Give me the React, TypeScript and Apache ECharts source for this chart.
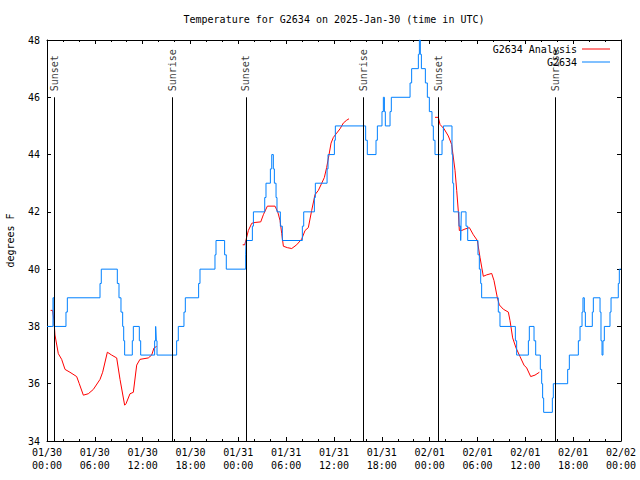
import React, { useEffect, useRef } from "react";
import * as echarts from "echarts";

const TITLE = "Temperature for G2634 on 2025-Jan-30 (time in UTC)";
const Y_NAME = "degrees F";
const OBS_NAME = "G2634";
const ANALYSIS_NAME = "G2634 Analysis";

// x is hours since 2025-01-30 00:00 UTC
const xTickLabels = [
  "01/30\n00:00", "01/30\n06:00", "01/30\n12:00", "01/30\n18:00",
  "01/31\n00:00", "01/31\n06:00", "01/31\n12:00", "01/31\n18:00",
  "02/01\n00:00", "02/01\n06:00", "02/01\n12:00", "02/01\n18:00",
  "02/02\n00:00",
];

// observed temperature: [hour, value] at each change
const observed: [number, number][] = [
  [0, 38], [0.75, 39], [0.88, 38], [2.38, 38.5], [2.55, 39], [6.65, 39.5], [6.81, 40],
  [8.82, 39.5], [9.03, 39], [9.28, 38.5], [9.49, 38], [9.62, 37.5], [9.74, 37],
  [10.7, 37.5], [10.83, 38], [11.58, 37.5], [11.75, 37], [13.5, 37.5], [13.63, 38],
  [13.71, 37.5], [13.8, 37], [16.26, 37.5], [16.47, 38], [17.18, 38.5], [17.35, 39],
  [19.02, 39.5], [19.19, 40], [21.07, 40.5], [21.2, 41], [22.28, 40.5], [22.49, 40],
  [24.92, 40.5], [24.97, 41], [25.76, 41.5], [25.89, 42], [27.31, 42.5], [27.47, 43],
  [28.02, 43.5], [28.19, 44], [28.39, 43.5], [28.52, 43], [28.73, 42.5], [28.85, 42],
  [29.27, 41.5], [29.52, 41], [32.03, 41.5], [32.2, 42], [33.54, 42.5], [33.66, 43],
  [35.13, 43.5], [35.25, 44], [36.05, 44.5], [36.17, 45], [39.97, 44.5], [40.18, 44],
  [41.27, 44.5], [41.44, 45], [42.02, 45.5], [42.19, 46], [42.32, 45.5], [42.44, 45],
  [43.03, 45.5], [43.19, 46], [45.54, 46.5], [45.74, 47], [46.58, 47.5], [46.71, 48],
  [46.83, 47.5], [46.96, 47], [47.46, 46.5], [47.71, 46], [47.96, 45.5], [48.29, 45],
  [48.46, 44.5], [48.67, 44], [49.55, 44.5], [49.72, 45], [50.8, 44], [50.89, 43],
  [51.01, 42], [51.68, 41.5], [51.89, 41], [51.97, 42], [52.56, 41.5], [52.77, 41],
  [54.06, 40.5], [54.23, 40], [54.4, 39.5], [54.52, 39], [56.61, 38.5], [56.82, 38],
  [58.75, 37.5], [58.91, 37], [60.38, 37.5], [60.5, 38], [61.09, 37.5], [61.3, 37],
  [61.88, 36.5], [62.05, 36], [62.17, 35.5], [62.3, 35], [63.39, 35.5], [63.51, 36],
  [65.31, 36.5], [65.52, 37], [66.65, 37.5], [66.86, 38], [67.11, 38.5], [67.23, 39],
  [67.4, 38.5], [67.53, 38], [68.4, 38.5], [68.53, 39], [69.37, 38.5], [69.49, 37.5],
  [69.62, 37], [69.74, 37.5], [69.91, 38], [70.62, 38.5], [70.75, 39], [71.66, 39.5],
  [71.79, 40], [72, 40],
];

// analysis, three nightly runs
const analysisNight1: [number, number][] = [
  [0.46, 38.56], [0.7, 38.56], [0.88, 38.2], [1.0, 37.7], [1.42, 37.05], [1.84, 36.85],
  [2.26, 36.5], [2.88, 36.4], [3.72, 36.25], [4.05, 36.0], [4.56, 35.6], [5.18, 35.65],
  [5.81, 35.8], [6.65, 36.15], [6.98, 36.4], [7.57, 37.1], [8.11, 37.0], [8.74, 36.9],
  [9.16, 36.15], [9.74, 35.25], [9.91, 35.3], [10.41, 35.65], [10.83, 35.7], [11.25, 36.65],
  [11.66, 36.85], [12.71, 36.9], [13.13, 37.0], [13.42, 37.25], [13.75, 37.3],
];
const analysisNight2: [number, number][] = [
  [24.55, 40.85], [24.8, 40.85], [24.97, 41.03], [25.26, 41.35], [25.68, 41.6], [26.1, 41.63],
  [26.81, 41.65], [27.14, 41.9], [27.64, 42.2], [28.6, 42.2], [28.94, 42.0], [29.23, 41.7],
  [29.44, 41.25], [29.65, 40.8], [30.15, 40.75], [30.7, 40.72], [31.32, 40.85], [31.95, 41.05],
  [32.37, 41.35], [32.78, 41.45], [33.2, 42.05], [33.62, 42.6], [34.04, 42.75], [34.46, 43.0],
  [34.79, 43.2], [35.08, 43.55], [35.38, 44.0], [35.63, 44.4], [35.92, 44.6], [36.34, 44.75],
  [36.76, 44.9], [37.17, 45.1], [37.59, 45.2], [37.88, 45.25],
];
const analysisNight3: [number, number][] = [
  [48.67, 45.3], [49.09, 45.3], [49.3, 45.05], [49.8, 44.9], [50.34, 44.65], [50.76, 44.35],
  [51.18, 43.45], [51.39, 42.75], [51.6, 42.0], [51.72, 41.35], [52.02, 41.35], [52.43, 41.4],
  [52.98, 41.45], [53.48, 41.2], [53.98, 41.0], [54.32, 40.4], [54.73, 39.75], [55.15, 39.8],
  [55.78, 39.85], [56.07, 39.6], [56.49, 39.0], [56.74, 38.75], [57.24, 38.6], [57.87, 38.5],
  [58.08, 38.2], [58.41, 37.6], [58.83, 37.25], [59.33, 36.95], [59.83, 36.65], [60.17, 36.55],
  [60.67, 36.25], [61.21, 36.3], [61.76, 36.4],
];

const sunsetHours = [0.92, 24.96, 49.08];
const sunriseHours = [15.76, 39.68, 63.77];
const SUN_LINE_BOTTOM = 34;
const SUN_LINE_TOP = 46;

const FONT = "'DejaVu Sans Mono', 'Liberation Mono', monospace";
const RED = "#ff0000";
const BLUE = "#0080ff";

export default function App() {
  const ref = useRef<HTMLDivElement>(null);

  useEffect(() => {
    if (!ref.current) return;
    const chart = echarts.init(ref.current, null, { renderer: "svg" });

    const axisBase = {
      type: "value" as const,
      axisLine: { show: true, onZero: false, lineStyle: { color: "#000", width: 1 } },
      axisTick: { show: true, inside: true, length: 4, lineStyle: { color: "#000", width: 1 } },
      splitLine: { show: false },
    };

    const analysisSeries = [analysisNight1, analysisNight2, analysisNight3].map((seg) => ({
      type: "line",
      name: ANALYSIS_NAME,
      data: seg,
      showSymbol: false,
      symbol: "none",
      lineStyle: { color: RED, width: 1 },
      itemStyle: { color: RED },
      z: 3,
    }));

    const sunLabel = (text: string) => ({
      show: true,
      formatter: text,
      position: "top",
      distance: 5,
      offset: [1, 0],
      rotate: 90,
      align: "left",
      verticalAlign: "middle",
      fontFamily: FONT,
      fontSize: 10,
      color: "#000",
    });

    const option: any = {
      animation: false,
      backgroundColor: "#ffffff",
      textStyle: { fontFamily: FONT },
      title: {
        text: TITLE,
        left: 334,
        top: 13,
        textAlign: "center",
        padding: 0,
        textStyle: { fontFamily: FONT, fontSize: 10, fontWeight: "normal", color: "#000", lineHeight: 12 },
      },
      legend: [
        {
          data: [ANALYSIS_NAME],
          right: 30,
          top: 44,
          padding: 0,
          align: "right",
          icon: "rect",
          itemWidth: 28,
          itemHeight: 1,
          selectedMode: false,
          textStyle: { fontFamily: FONT, fontSize: 10, color: "#000" },
        },
        {
          data: [OBS_NAME],
          right: 30,
          top: 57,
          padding: 0,
          align: "right",
          icon: "rect",
          itemWidth: 28,
          itemHeight: 1,
          selectedMode: false,
          textStyle: { fontFamily: FONT, fontSize: 10, color: "#000" },
        },
      ],
      grid: { left: 47, right: 19, top: 40, bottom: 39, containLabel: false, outerBoundsMode: "none" },
      xAxis: [
        {
          ...axisBase,
          min: 0,
          max: 72,
          interval: 6,
          minorTick: { show: true, splitNumber: 3, length: 2, lineStyle: { color: "#000", width: 1 } },
          axisLabel: {
            formatter: (v: number) => xTickLabels[Math.round(v / 6)] ?? "",
            fontFamily: FONT,
            fontSize: 10,
            color: "#000",
            lineHeight: 13,
            margin: 5,
          },
        },
        {
          ...axisBase,
          position: "top",
          min: 0,
          max: 72,
          interval: 6,
          minorTick: { show: true, splitNumber: 3, length: 2, lineStyle: { color: "#000", width: 1 } },
          axisLabel: { show: false },
        },
      ],
      yAxis: [
        {
          ...axisBase,
          min: 34,
          max: 48,
          interval: 2,
          name: Y_NAME,
          nameLocation: "middle",
          nameGap: 32,
          nameRotate: 90,
          nameTextStyle: { fontFamily: FONT, fontSize: 10, color: "#000" },
          axisLabel: { fontFamily: FONT, fontSize: 10, color: "#000", margin: 7 },
        },
        {
          ...axisBase,
          position: "right",
          min: 34,
          max: 48,
          interval: 2,
          axisLabel: { show: false },
        },
      ],
      series: [
        ...analysisSeries,
        {
          type: "line",
          name: OBS_NAME,
          data: observed,
          step: "end",
          showSymbol: false,
          symbol: "none",
          lineStyle: { color: BLUE, width: 1 },
          itemStyle: { color: BLUE },
          z: 4,
        },
        {
          type: "scatter",
          name: "Sunset",
          data: sunsetHours.map((h) => [h, SUN_LINE_TOP]),
          symbolSize: 0.01,
          itemStyle: { color: "rgba(0,0,0,0)" },
          label: sunLabel("Sunset"),
          silent: true,
          z: 2,
          markLine: {
            silent: true,
            symbol: ["none", "none"],
            label: { show: false },
            lineStyle: { color: "#000", width: 1, type: "solid" },
            data: [...sunsetHours, ...sunriseHours].map((h) => [
              { coord: [h, SUN_LINE_BOTTOM] },
              { coord: [h, SUN_LINE_TOP] },
            ]),
          },
        },
        {
          type: "scatter",
          name: "Sunrise",
          data: sunriseHours.map((h) => [h, SUN_LINE_TOP]),
          symbolSize: 0.01,
          itemStyle: { color: "rgba(0,0,0,0)" },
          label: sunLabel("Sunrise"),
          silent: true,
          z: 2,
        },
      ],
    };

    chart.setOption(option);
    return () => chart.dispose();
  }, []);

  return (
    <div
      ref={ref}
      style={{ position: "fixed", left: 0, top: 0, width: 640, height: 480, background: "#fff" }}
    />
  );
}
